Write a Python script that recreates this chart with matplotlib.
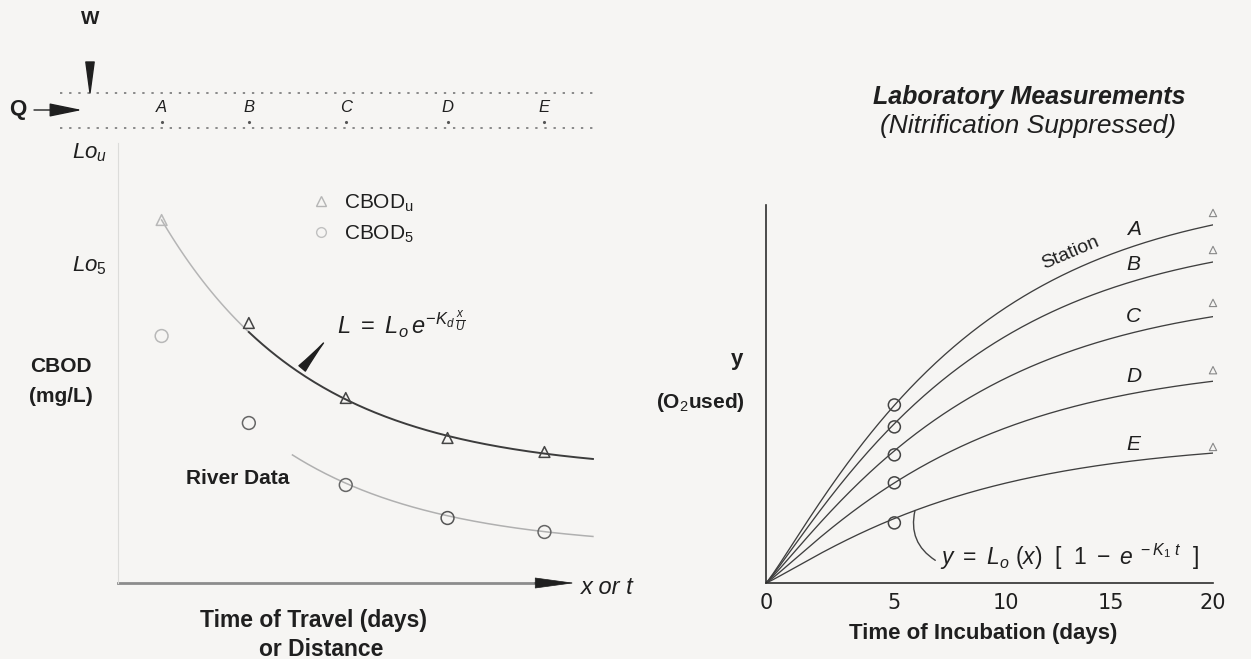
import numpy as np
import matplotlib
matplotlib.use("Agg")
import matplotlib.pyplot as plt
import matplotlib.transforms as mtransforms
from matplotlib.lines import Line2D

plt.rcParams['font.family'] = ['Liberation Sans', 'DejaVu Sans']
plt.rcParams['mathtext.fontset'] = 'custom'
plt.rcParams['mathtext.rm'] = 'Liberation Sans'
plt.rcParams['mathtext.it'] = 'Liberation Sans:italic'
plt.rcParams['mathtext.bf'] = 'Liberation Sans:bold'

INK = '#1f1f1f'
PAPER = '#f6f5f3'

# river survey along the reach (left panel)
stations = ['A', 'B', 'C', 'D', 'E']
station_x = [0.45, 1.35, 2.35, 3.4, 4.4]
river_cbod_u = [18.15, 13.0, 9.25, 7.25, 6.55]
river_cbod_5 = [12.35, 8.0, 4.9, 3.25, 2.55]
# fitted decay curves: (floor, rate)
fit_u = (5.5, 0.65)
fit_5 = (1.7, 0.65)

# bottle tests for each station (right panel)
incubation_days = [0, 5, 10, 15, 20]
lab_L = [10.42, 9.34, 7.75, 5.87, 3.78]
lab_k1 = 0.12
lab_day5 = [4.71, 4.13, 3.39, 2.65, 1.59]
lab_day20 = [9.79, 8.81, 7.41, 5.63, 3.6]

# hand-drafted time axis is slightly compressed toward 20 days
T_POW = 0.9


def decay(x, x0, y0, floor, k):
    return floor + (y0 - floor) * np.exp(-k * (x - x0))


def bod(t, L, k=lab_k1):
    return L * (1 - np.exp(-k * t))


def t_fwd(t):
    return np.sign(t) * np.abs(t) ** T_POW


def t_inv(u):
    return np.sign(u) * np.abs(u) ** (1 / T_POW)


W, H = 1251, 659
fig = plt.figure(figsize=(W / 100, H / 100), dpi=100, facecolor=PAPER)


def box(x0, y0, x1, y1):
    # pixel box, origin top-left -> figure rect
    return [x0 / W, 1 - y1 / H, (x1 - x0) / W, (y1 - y0) / H]


# overlay in pixel units for the sketch and free labels
ov = fig.add_axes([0, 0, 1, 1])
ov.set_xlim(0, W)
ov.set_ylim(H, 0)
ov.axis('off')

ax1 = fig.add_axes(box(118, 143, 622, 583))
ax2 = fig.add_axes(box(766, 205, 1213, 583))

# ---- river sketch ----
for yy in (93, 128):
    ov.plot([60, 595], [yy, yy], ls=(0, (1.2, 3.5)), color='#8a8a8a', lw=1.4)
ov.text(90, 20, 'W', ha='center', va='center', fontsize=14, fontweight='bold', color=INK)
ov.annotate('', xy=(90, 93), xytext=(90, 62),
            arrowprops=dict(arrowstyle='wedge,tail_width=0.6,shrink_factor=0.5',
                            color=INK, shrinkA=0, shrinkB=0))
ov.text(18, 110, 'Q', ha='center', va='center', fontsize=16, fontweight='bold', color=INK)
ov.annotate('', xy=(82, 110), xytext=(34, 110),
            arrowprops=dict(arrowstyle='-|>,head_length=1.7,head_width=0.35',
                            mutation_scale=12, lw=1.0, color=INK, shrinkA=0, shrinkB=0))

trans = mtransforms.blended_transform_factory(ax1.transData, ov.transData)
for s, x in zip(stations, station_x):
    ax1.text(x, 107, s, transform=trans, ha='center', va='center',
             style='italic', fontsize=12, color=INK)
    ax1.plot(x, 122, marker='.', ms=2.5, color='#555', transform=trans, clip_on=False)

# ---- left panel: river data ----
ax1.set_xlim(0, 5.2)
ax1.set_ylim(0, 22)
ax1.patch.set_alpha(0)
for s in ['top', 'right', 'bottom']:
    ax1.spines[s].set_visible(False)
ax1.spines['left'].set_color('#dcdcda')
ax1.set_xticks([])
ax1.set_yticks([])

xa = np.linspace(station_x[0], station_x[1], 50)
xb = np.linspace(station_x[1], 4.9, 200)
ax1.plot(xa, decay(xa, station_x[0], river_cbod_u[0], *fit_u), color='#b5b5b5', lw=1.1)
ax1.plot(xb, decay(xb, station_x[0], river_cbod_u[0], *fit_u), color='#3c3c3c', lw=1.4)
x5 = np.linspace(1.8, 4.9, 200)
ax1.plot(x5, decay(x5, station_x[1], river_cbod_5[1], *fit_5), color='#b0b0b0', lw=1.1)

mk_col = ['#b8b8b8'] + ['#444'] * 4
ax1.scatter(station_x, river_cbod_u, marker='^', s=60, facecolors='none',
            edgecolors=mk_col, linewidths=1.1, zorder=3, clip_on=False)
ax1.scatter(station_x, river_cbod_5, marker='o', s=85, facecolors='none',
            edgecolors=['#b8b8b8', '#666', '#666', '#555', '#666'], linewidths=1.1,
            zorder=3, clip_on=False)

handles = [Line2D([], [], marker='^', ls='none', mfc='none', mec='#b5b5b5', ms=7),
           Line2D([], [], marker='o', ls='none', mfc='none', mec='#c0c0c0', ms=7)]
ax1.legend(handles, [r'CBOD$_{\mathrm{u}}$', r'CBOD$_5$'], loc='upper left',
           bbox_to_anchor=(0.345, 0.93), frameon=False, fontsize=15,
           handlelength=1.0, handletextpad=0.6, labelspacing=0.45, labelcolor=INK)

# arrow from the equation down to the curve
xq = 1.9
ax1.annotate('', xy=(2.12, 12.0), xytext=(xq, decay(xq, station_x[0], river_cbod_u[0], *fit_u) + 0.3),
             arrowprops=dict(arrowstyle='wedge,tail_width=0.6,shrink_factor=0.4',
                             color=INK, shrinkA=0, shrinkB=0))
ax1.text(2.26, 12.9, r'$L\ =\ L_o\,e^{-K_d\,\frac{x}{U}}$', fontsize=17,
         ha='left', va='center', color=INK)
ax1.text(1.24, 5.25, 'River Data', fontsize=15, fontweight='bold',
         ha='center', va='center', color=INK)

# distance axis: grey shaft with a dark head
ax1.plot([0, 4.45], [0, 0], color='#8c8c8c', lw=2.0, clip_on=False)
ax1.annotate('', xy=(4.71, 0), xytext=(4.3, 0), annotation_clip=False,
             arrowprops=dict(arrowstyle='-|>,head_length=2.2,head_width=0.3',
                             mutation_scale=12, lw=0.5, color=INK, shrinkA=0, shrinkB=0))
ov.text(581, 588, 'x or t', style='italic', fontsize=17, ha='left', va='center', color=INK)

ov.text(72, 153, r'$Lo_{u}$', fontsize=16, ha='left', va='center', color=INK)
ov.text(72, 266, r'$Lo_{5}$', fontsize=16, ha='left', va='center', color=INK)
ov.text(61, 366, 'CBOD', fontsize=15, fontweight='bold', ha='center', va='center', color=INK)
ov.text(61, 396, '(mg/L)', fontsize=15, fontweight='bold', ha='center', va='center', color=INK)
ov.text(314, 621, 'Time of Travel (days)', fontsize=16.5, fontweight='bold',
        ha='center', va='center', color=INK)
ov.text(321, 649, 'or Distance', fontsize=16.5, fontweight='bold',
        ha='center', va='center', color=INK)

# ---- right panel: laboratory BOD bottles ----
ax2.set_xscale('function', functions=(t_fwd, t_inv))
ax2.set_xlim(0, 20)
ax2.set_ylim(0, 10)
ax2.patch.set_alpha(0)
for s in ['top', 'right']:
    ax2.spines[s].set_visible(False)
for s in ['left', 'bottom']:
    ax2.spines[s].set_color('#2e2e2e')
    ax2.spines[s].set_linewidth(1.2)
ax2.set_xticks(incubation_days)
ax2.set_xticklabels([str(d) for d in incubation_days])
ax2.xaxis.set_minor_locator(matplotlib.ticker.NullLocator())
ax2.set_yticks([])
ax2.tick_params(axis='x', length=0, pad=7, labelsize=15, labelcolor=INK)
for lab in ax2.get_xticklabels():
    lab.set_fontfamily('DejaVu Sans')

t = np.linspace(0, 20, 300)
for L in lab_L:
    ax2.plot(t, bod(t, L), color='#3f3f3f', lw=0.95)
ax2.scatter([5] * len(lab_day5), lab_day5, marker='o', s=75, facecolors='none',
            edgecolors='#444', linewidths=1.1, zorder=3)
ax2.scatter([20] * len(lab_day20), lab_day20, marker='^', s=28, facecolors='none',
            edgecolors='#888', linewidths=0.8, zorder=3, clip_on=False)

for s, L in zip(stations, lab_L):
    ax2.annotate(s, (16.1, bod(16.1, L)), xytext=(0, 5), textcoords='offset points',
                 ha='center', va='bottom', style='italic', fontsize=15, color=INK)
ax2.text(13.2, bod(13.2, lab_L[0]) + 0.25, 'Station', rotation=23, rotation_mode='anchor',
         ha='center', va='bottom', fontsize=14, color=INK)

ax2.annotate('', xy=(5.9, bod(5.9, lab_L[4])), xytext=(6.8, 0.6),
             arrowprops=dict(arrowstyle='-', connectionstyle='arc3,rad=-0.35',
                             color='#444', lw=1.0, shrinkA=0, shrinkB=0))
ax2.text(7.0, 0.68, r'$y\ =\ L_o\ (x)\ \ [\ \ 1\ -\ e^{\ -K_1\ t}\ \ ]$', fontsize=16.5,
         ha='left', va='center', color=INK)

ov.text(737, 360, 'y', fontsize=16, fontweight='bold', ha='center', va='center', color=INK)
ov.text(700, 402, r'(O$_2$used)', fontsize=15, fontweight='bold', ha='center', va='center', color=INK)
ov.text(983, 633, 'Time of Incubation (days)', fontsize=16, fontweight='bold',
        ha='center', va='center', color=INK)
ov.text(1029, 97, 'Laboratory Measurements', fontsize=18, fontweight='bold', style='italic',
        ha='center', va='center', color=INK)
ov.text(1028, 126, '(Nitrification Suppressed)', fontsize=19, style='italic',
        ha='center', va='center', color=INK)

fig.savefig('out.png', dpi=100, facecolor=PAPER)
